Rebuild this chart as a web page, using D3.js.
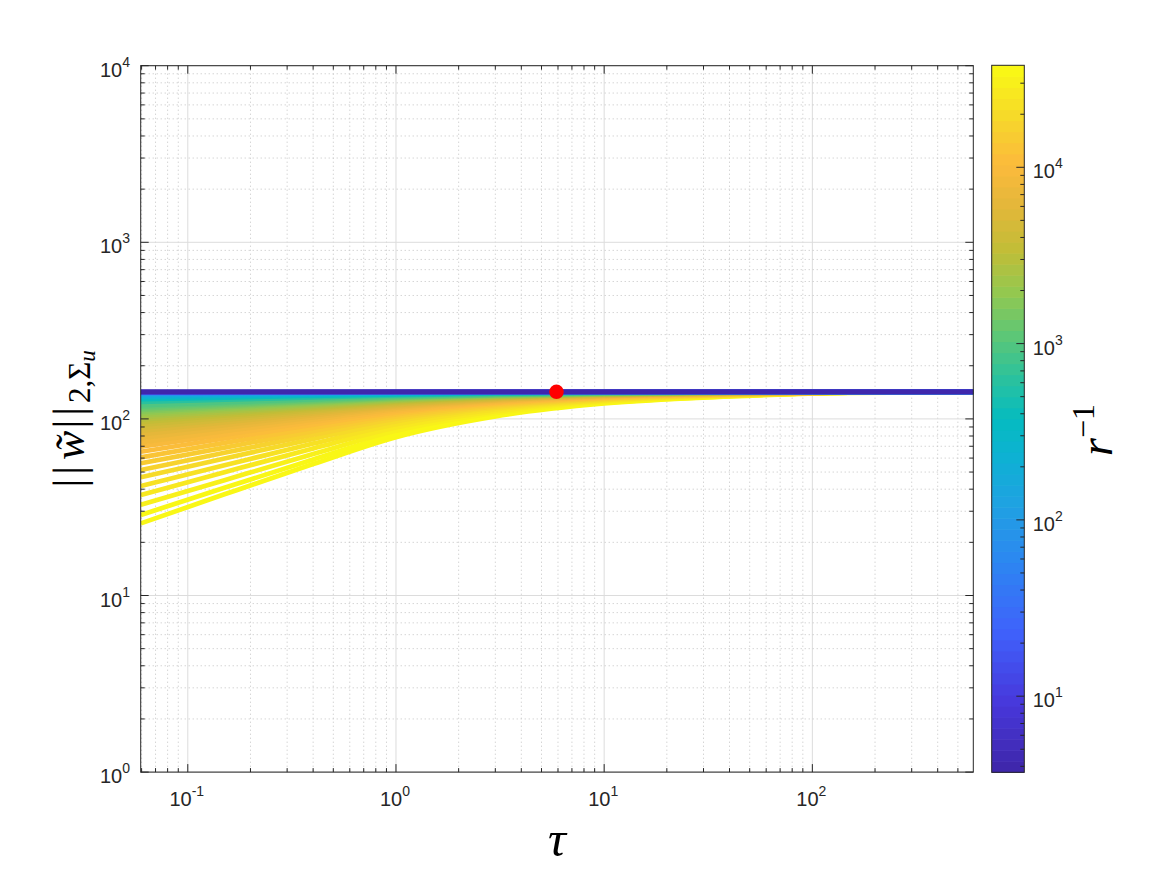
<!DOCTYPE html>
<html>
<head>
<meta charset="utf-8">
<script src="https://cdn.jsdelivr.net/npm/d3@7"></script>
<style>
body { margin: 0; background: #fff; }
</style>
</head>
<body>
<div id="chart"></div>
<script>
var tauPts = [0.0595, 0.15, 0.4, 1, 3, 10, 40, 150, 593];

// r^-1 of each curve (largest first, so the small ones end up on top)
var rInv = [37900, 33300, 29100, 25500, 22300, 19500, 17100, 14900, 13100, 11400, 10000,
    8660, 7500, 6490, 5620, 4870, 4220, 3650, 3160, 2740, 2370, 2050, 1780, 1540, 1330, 1150, 1000,
    631, 398, 251, 158, 100, 50, 25, 12.6, 6.3, 3.7];

// ||w||_{2,Sigma_u} of each curve at tauPts
var normW = [
    [25.6, 37.4, 55.5, 78.8, 103.3, 122.2, 133.9, 140.4, 141.9],
    [28.6, 40.7, 58.9, 81.8, 105.4, 123.4, 134.4, 140.6, 141.9],
    [32.6, 45.0, 63.2, 85.6, 108.0, 124.9, 135.0, 140.7, 142.0],
    [37.1, 49.9, 68.0, 89.5, 110.7, 126.3, 135.7, 140.9, 142.0],
    [41.7, 54.6, 72.5, 93.2, 113.2, 127.7, 136.2, 141.0, 142.0],
    [46.7, 59.7, 77.1, 96.9, 115.6, 129.0, 136.8, 141.1, 142.1],
    [51.4, 64.3, 81.3, 100.2, 117.7, 130.1, 137.3, 141.3, 142.1],
    [56.1, 68.8, 85.3, 103.2, 119.6, 131.1, 137.7, 141.4, 142.1],
    [60.6, 73.1, 89.0, 106.0, 121.4, 132.0, 138.1, 141.4, 142.2],
    [65.2, 77.4, 92.7, 108.8, 123.1, 132.8, 138.5, 141.5, 142.2],
    [69.6, 81.5, 96.0, 111.2, 124.6, 133.6, 138.8, 141.6, 142.2],
    [73.7, 85.2, 99.1, 113.4, 125.9, 134.3, 139.1, 141.6, 142.2],
    [77.8, 88.8, 102.1, 115.6, 127.2, 134.9, 139.3, 141.7, 142.2],
    [81.7, 92.3, 104.9, 117.6, 128.3, 135.5, 139.6, 141.8, 142.2],
    [85.4, 95.6, 107.5, 119.4, 129.4, 136.0, 139.8, 141.8, 142.3],
    [89.0, 98.7, 110.0, 121.1, 130.4, 136.6, 140.0, 141.9, 142.3],
    [92.5, 101.7, 112.3, 122.7, 131.4, 137.0, 140.2, 141.9, 142.3],
    [95.8, 104.5, 114.5, 124.2, 132.2, 137.5, 140.4, 141.9, 142.3],
    [99.0, 107.2, 116.6, 125.6, 133.1, 137.9, 140.6, 142.0, 142.3],
    [102.0, 109.7, 118.5, 126.9, 133.8, 138.2, 140.7, 142.0, 142.3],
    [104.8, 112.1, 120.3, 128.2, 134.5, 138.6, 140.8, 142.0, 142.3],
    [107.4, 114.3, 122.0, 129.2, 135.1, 138.9, 141.0, 142.1, 142.3],
    [110.0, 116.4, 123.5, 130.3, 135.7, 139.2, 141.1, 142.1, 142.3],
    [112.4, 118.5, 125.1, 131.3, 136.2, 139.5, 141.2, 142.1, 142.3],
    [114.8, 120.4, 126.5, 132.2, 136.8, 139.7, 141.3, 142.2, 142.3],
    [117.2, 122.4, 128.0, 133.2, 137.3, 140.0, 141.4, 142.2, 142.3],
    [119.6, 124.3, 129.4, 134.1, 137.8, 140.2, 141.5, 142.2, 142.4],
    [124.7, 128.4, 132.3, 136.0, 138.9, 140.7, 141.7, 142.2, 142.4],
    [129.3, 132.1, 135.1, 137.7, 139.9, 141.2, 141.9, 142.3, 142.4],
    [133.1, 135.1, 137.2, 139.1, 140.6, 141.5, 142.0, 142.3, 142.4],
    [136.2, 137.6, 139.0, 140.2, 141.2, 141.8, 142.2, 142.4, 142.4],
    [138.6, 139.4, 140.3, 141.1, 141.7, 142.0, 142.3, 142.4, 142.4],
    [140.2, 140.7, 141.2, 141.6, 141.9, 142.1, 142.3, 142.4, 142.4],
    [141.3, 141.5, 141.8, 142.0, 142.2, 142.3, 142.4, 142.4, 142.4],
    [141.9, 142.0, 142.1, 142.2, 142.3, 142.4, 142.4, 142.4, 142.4],
    [142.4, 142.4, 142.4, 142.4, 142.4, 142.4, 142.4, 142.4, 142.4],
    [142.4, 142.4, 142.4, 142.4, 142.4, 142.4, 142.4, 142.4, 142.4]
];

// red marker
var markerTau = [5.9];
var markerNorm = [142.4];

// axis limits and labelled ticks
var xLim = [0.0594, 593];
var yLim = [1, 10000];
var cLim = [3.7, 37900];
var xMajor = [0.1, 1, 10, 100];
var yMajor = [1, 10, 100, 1000, 10000];
var cMajor = [10, 100, 1000, 10000];

var width = 1167, height = 875;
var plot = { left: 140.7, right: 973.3, top: 65.7, bottom: 772.1 };
var cbar = { left: 991.7, right: 1024.3, top: 65.3, bottom: 772.3 };
var axisColor = "#262626";
var tickFont = "'Liberation Sans', Arial, sans-serif";
var mathFont = "'Liberation Serif', 'Times New Roman', serif";

// parula-like colormap, 64 levels
var parula = d3.scaleLinear()
    .domain([0, 0.1, 0.2, 0.3, 0.38, 0.45, 0.5, 0.56, 0.62, 0.68, 0.74, 0.8, 0.86, 0.92, 1])
    .range(["#3e26a8", "#4738dc", "#3f62fb", "#2c87f1", "#1fa2e2", "#0db2d2", "#05bbc0",
        "#2dc29c", "#5ec775", "#94c84f", "#c2bd37", "#e3b73a", "#fcba3c", "#f6d52c", "#f9fb14"])
    .interpolate(d3.interpolateRgb);
var nLevels = 64;

var x = d3.scaleLog().domain(xLim).range([plot.left, plot.right]);
var y = d3.scaleLog().domain(yLim).range([plot.bottom, plot.top]);
var c = d3.scaleLog().domain(cLim).range([0, 1]);
var cy = d3.scaleLog().domain(cLim).range([cbar.bottom, cbar.top]);

function levelColor(v) {
    var k = Math.floor(Math.max(0, Math.min(0.9999, c(v))) * nLevels);
    return parula((k + 0.5) / nLevels);
}
function isMajor(v) {
    var l = Math.log10(v);
    return Math.abs(l - Math.round(l)) < 1e-6;
}
function expOf(v) { return Math.round(Math.log10(v)); }

var svg = d3.select("#chart")
    .append("svg")
    .attr("width", width)
    .attr("height", height)
    .style("background", "#fff");

svg.append("defs").append("clipPath")
    .attr("id", "plotclip")
    .append("rect")
    .attr("x", plot.left).attr("y", plot.top)
    .attr("width", plot.right - plot.left)
    .attr("height", plot.bottom - plot.top);

// grid
var xTicks = x.ticks();
var yTicks = y.ticks();
var grid = svg.append("g");
xTicks.forEach(function (t) {
    var major = isMajor(t);
    grid.append("line")
        .attr("x1", x(t)).attr("x2", x(t))
        .attr("y1", plot.top).attr("y2", plot.bottom)
        .attr("stroke", major ? "#dcdcdc" : "#c2c2c2")
        .attr("stroke-width", 1)
        .attr("stroke-dasharray", major ? null : "1,3");
});
yTicks.forEach(function (t) {
    var major = isMajor(t);
    grid.append("line")
        .attr("x1", plot.left).attr("x2", plot.right)
        .attr("y1", y(t)).attr("y2", y(t))
        .attr("stroke", major ? "#dcdcdc" : "#c2c2c2")
        .attr("stroke-width", 1)
        .attr("stroke-dasharray", major ? null : "1,3");
});

// curves
var line = d3.line()
    .x(function (d) { return x(d[0]); })
    .y(function (d) { return y(d[1]); })
    .curve(d3.curveMonotoneX);

var curves = svg.append("g").attr("clip-path", "url(#plotclip)");
rInv.forEach(function (r, i) {
    var pts = tauPts.map(function (t, j) { return [t, normW[i][j]]; });
    curves.append("path")
        .attr("d", line(pts))
        .attr("fill", "none")
        .attr("stroke", levelColor(r))
        .attr("stroke-width", 4.7)
        .attr("stroke-linejoin", "round");
});

curves.selectAll("circle.marker")
    .data(markerTau)
    .enter()
    .append("circle")
    .attr("class", "marker")
    .attr("cx", function (d) { return x(d); })
    .attr("cy", function (d, i) { return y(markerNorm[i]); })
    .attr("r", 7.3)
    .attr("fill", "#ff0000");

// axes box and inward ticks on all sides
var ax = svg.append("g").attr("stroke", axisColor).attr("stroke-width", 1);
ax.append("rect")
    .attr("x", plot.left).attr("y", plot.top)
    .attr("width", plot.right - plot.left)
    .attr("height", plot.bottom - plot.top)
    .attr("fill", "none");
xTicks.forEach(function (t) {
    var len = isMajor(t) ? 8 : 4;
    ax.append("line").attr("x1", x(t)).attr("x2", x(t))
        .attr("y1", plot.bottom).attr("y2", plot.bottom - len);
    ax.append("line").attr("x1", x(t)).attr("x2", x(t))
        .attr("y1", plot.top).attr("y2", plot.top + len);
});
yTicks.forEach(function (t) {
    var len = isMajor(t) ? 8 : 4;
    ax.append("line").attr("x1", plot.left).attr("x2", plot.left + len)
        .attr("y1", y(t)).attr("y2", y(t));
    ax.append("line").attr("x1", plot.right).attr("x2", plot.right - len)
        .attr("y1", y(t)).attr("y2", y(t));
});

// tick labels 10^k
function powLabel(g, v, px, py, anchor) {
    var txt = g.append("text")
        .attr("x", px).attr("y", py)
        .attr("text-anchor", anchor)
        .attr("font-family", tickFont)
        .attr("font-size", 20)
        .attr("fill", axisColor);
    txt.append("tspan").text("10");
    txt.append("tspan").attr("dy", -10).attr("font-size", 14).text(expOf(v));
}
var labels = svg.append("g");
xMajor.forEach(function (v) { powLabel(labels, v, x(v) - 1, plot.bottom + 34, "middle"); });
yMajor.forEach(function (v) { powLabel(labels, v, 130, y(v) + 11, "end"); });

// axis titles
labels.append("text")
    .attr("x", (plot.left + plot.right) / 2)
    .attr("y", 856)
    .attr("text-anchor", "middle")
    .attr("font-family", mathFont)
    .attr("font-style", "italic")
    .attr("font-size", 50)
    .attr("fill", "#000")
    .text("\u03C4");

var yl = labels.append("text")
    .attr("transform", "translate(84," + ((plot.top + plot.bottom) / 2) + ") rotate(-90)")
    .attr("text-anchor", "middle")
    .attr("font-family", mathFont)
    .attr("font-size", 44)
    .attr("fill", "#000");
yl.append("tspan").attr("letter-spacing", 4).text("||");
yl.append("tspan").attr("font-style", "italic").attr("dx", 2).text("w\u0303");
yl.append("tspan").attr("letter-spacing", 4).attr("dx", 2).text("||");
yl.append("tspan").attr("font-size", 31).attr("dy", 6).text("2,\u03A3");
yl.append("tspan").attr("font-size", 23).attr("font-style", "italic").attr("dy", 5).text("u");

// colorbar
var cb = svg.append("g");
d3.range(nLevels).forEach(function (k) {
    var y0 = cbar.bottom - (cbar.bottom - cbar.top) * (k + 1) / nLevels;
    cb.append("rect")
        .attr("x", cbar.left)
        .attr("y", y0)
        .attr("width", cbar.right - cbar.left)
        .attr("height", (cbar.bottom - cbar.top) / nLevels + 0.6)
        .attr("fill", parula((k + 0.5) / nLevels));
});
cb.append("rect")
    .attr("x", cbar.left).attr("y", cbar.top)
    .attr("width", cbar.right - cbar.left)
    .attr("height", cbar.bottom - cbar.top)
    .attr("fill", "none")
    .attr("stroke", axisColor)
    .attr("stroke-width", 1);
cy.ticks().forEach(function (t) {
    var len = isMajor(t) ? 8 : 4;
    cb.append("line")
        .attr("x1", cbar.right).attr("x2", cbar.right - len)
        .attr("y1", cy(t)).attr("y2", cy(t))
        .attr("stroke", axisColor).attr("stroke-width", 1);
});
cMajor.forEach(function (v) { powLabel(cb, v, 1032.7, cy(v) + 11, "start"); });

var cl = cb.append("text")
    .attr("transform", "translate(1112,430) rotate(-90)")
    .attr("text-anchor", "middle")
    .attr("font-family", mathFont)
    .attr("font-size", 46)
    .attr("fill", "#000");
cl.append("tspan").attr("font-style", "italic").text("r");
cl.append("tspan").attr("font-size", 32).attr("dy", -18).text("\u22121");
</script>
</body>
</html>
